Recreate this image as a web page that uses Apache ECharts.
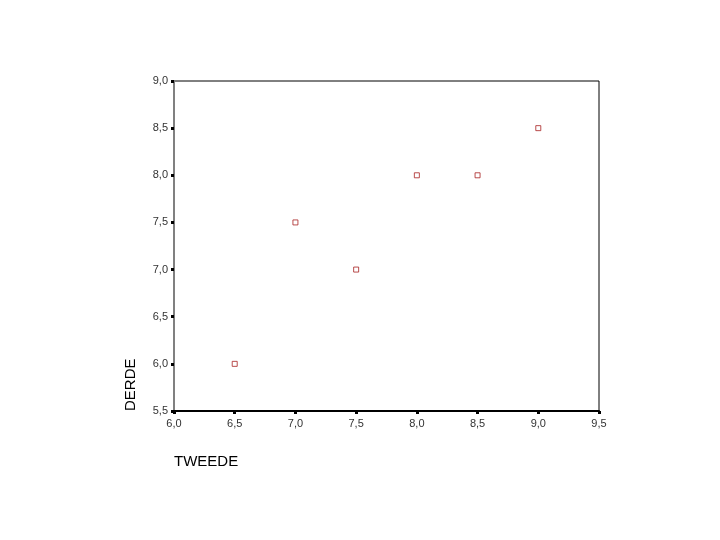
<!DOCTYPE html>
<html>
<head>
<meta charset="utf-8">
<script src="https://cdn.jsdelivr.net/npm/echarts@6/dist/echarts.min.js"></script>
<style>
  html, body { margin: 0; padding: 0; background: #fff; }
  #chart { width: 720px; height: 540px; }
</style>
</head>
<body>
<div id="chart"></div>
<script>
// data
var tweede = [6.5, 7.0, 7.5, 8.0, 8.5, 9.0];
var derde = [6.0, 7.5, 7.0, 8.0, 8.0, 8.5];
var xName = "TWEEDE";
var yName = "DERDE";

var points = tweede.map(function (x, i) { return [x, derde[i]]; });

function comma(v) {
  return v.toFixed(1).replace(".", ",");
}

var myChart = echarts.init(document.getElementById("chart"));
myChart.setOption({
  animation: false,
  textStyle: { fontFamily: "Liberation Sans, Arial, sans-serif" },
  grid: {
    left: 174,
    top: 81,
    right: 121,
    bottom: 129,
    show: true,
    borderColor: "#000",
    borderWidth: 1
  },
  xAxis: {
    type: "value",
    min: 6,
    max: 9.5,
    interval: 0.5,
    axisLine: { show: true, lineStyle: { color: "#000", width: 2 } },
    axisTick: { show: true, length: 3, lineStyle: { color: "#000", width: 3 } },
    axisLabel: { color: "#333", fontSize: 11, margin: 7, formatter: comma },
    splitLine: { show: false }
  },
  yAxis: {
    type: "value",
    min: 5.5,
    max: 9,
    interval: 0.5,
    axisLine: { show: true, lineStyle: { color: "#808080", width: 2 } },
    axisTick: { show: true, length: 3, lineStyle: { color: "#000", width: 3 } },
    axisLabel: { color: "#333", fontSize: 11, margin: 6, formatter: comma },
    splitLine: { show: false }
  },
  graphic: [
    {
      type: "text",
      left: 174,
      top: 454,
      style: { text: xName, fontSize: 15, fill: "#000", fontFamily: "Liberation Sans, Arial, sans-serif" }
    },
    {
      type: "text",
      x: 123,
      y: 411,
      rotation: Math.PI / 2,
      style: { text: yName, fontSize: 15, fill: "#000", fontFamily: "Liberation Sans, Arial, sans-serif", align: "left", verticalAlign: "top" }
    }
  ],
  series: [
    {
      type: "scatter",
      data: points,
      symbol: "rect",
      symbolSize: 5,
      itemStyle: { color: "#fff", borderColor: "#a82020", borderWidth: 1 }
    }
  ]
});
</script>
</body>
</html>
